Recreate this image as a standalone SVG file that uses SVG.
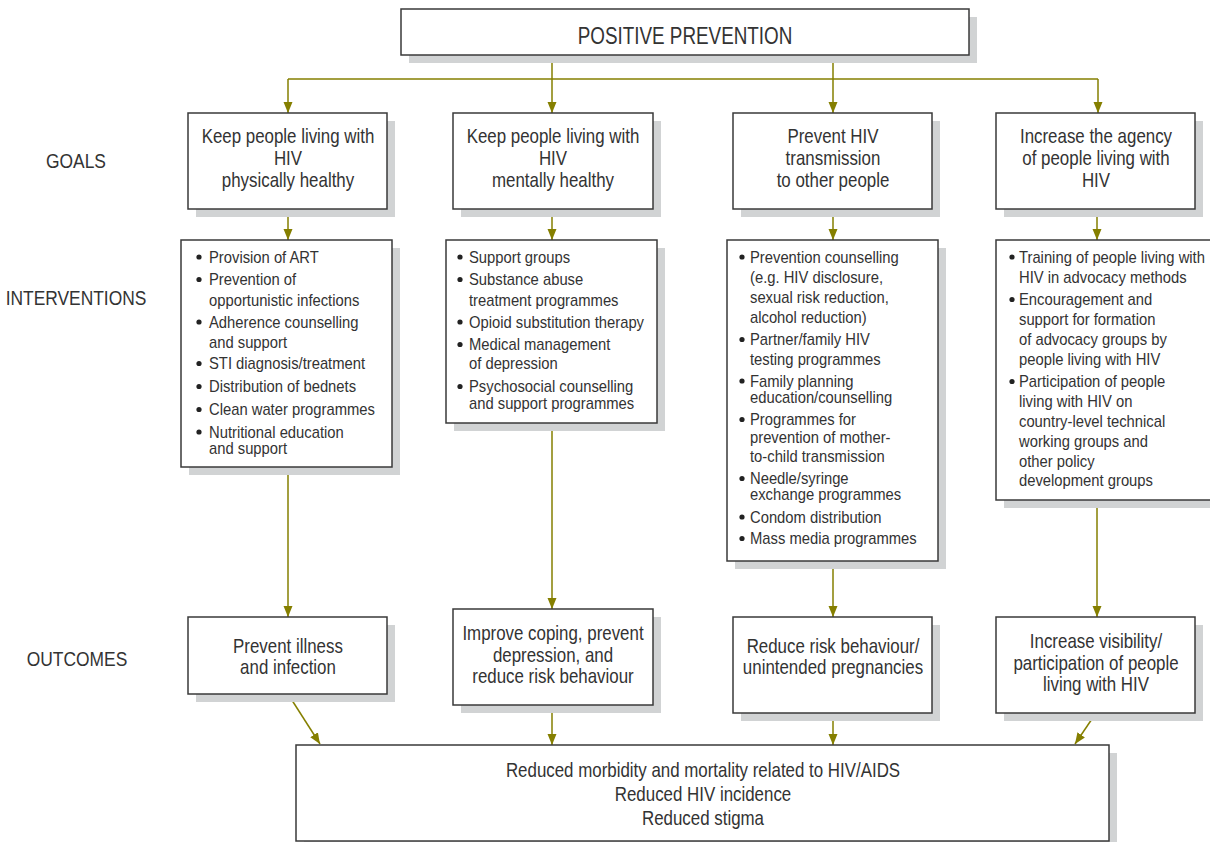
<svg xmlns="http://www.w3.org/2000/svg" width="1210" height="842" viewBox="0 0 1210 842">
<style>
.box{fill:#fff;stroke:#3a3a3a;stroke-width:1.5}
.sh{fill:#d1d3d4}
text{font-family:"Liberation Sans",Arial,sans-serif;fill:#333}
.tt{font-size:23px;text-anchor:middle}
.g{font-size:20px;text-anchor:middle}
.lab{font-size:20px;text-anchor:middle}
.i{font-size:17px}
.dot{fill:#222}
.c{stroke:#857f00;stroke-width:1.5;fill:none}
</style>
<defs>
<marker id="ah" markerUnits="userSpaceOnUse" markerWidth="12" markerHeight="10" refX="11" refY="4.5" orient="auto">
<path d="M0,0 L11,4.5 L0,9 z" fill="#857f00"/>
</marker>
</defs>
<rect width="1210" height="842" fill="#fff"/>

<g id="labels">
<text class="lab" transform="translate(76 168) scale(.87 1)">GOALS</text>
<text class="lab" transform="translate(76 305) scale(.87 1)">INTERVENTIONS</text>
<text class="lab" transform="translate(77 666) scale(.87 1)">OUTCOMES</text>
</g>

<g id="connectors">
<path class="c" d="M288,79 H1098"/>
<path class="c" d="M552,55 V113" marker-end="url(#ah)"/>
<path class="c" d="M833,55 V113" marker-end="url(#ah)"/>
<path class="c" d="M288,79 V113" marker-end="url(#ah)"/>
<path class="c" d="M1098,79 V113" marker-end="url(#ah)"/>
<path class="c" d="M288,209 V240" marker-end="url(#ah)"/>
<path class="c" d="M552,209 V240" marker-end="url(#ah)"/>
<path class="c" d="M833,209 V240" marker-end="url(#ah)"/>
<path class="c" d="M1097,209 V240" marker-end="url(#ah)"/>
<path class="c" d="M288,467 V617" marker-end="url(#ah)"/>
<path class="c" d="M552,423 V609" marker-end="url(#ah)"/>
<path class="c" d="M833,561 V617" marker-end="url(#ah)"/>
<path class="c" d="M1097,500 V617" marker-end="url(#ah)"/>
<path class="c" d="M288,694 L320,744" marker-end="url(#ah)"/>
<path class="c" d="M552,705 V745" marker-end="url(#ah)"/>
<path class="c" d="M833,713 V745" marker-end="url(#ah)"/>
<path class="c" d="M1096,713 L1075,744" marker-end="url(#ah)"/>
</g>

<g id="title">
<rect class="sh" x="409" y="17" width="568" height="46"/>
<rect class="box" x="401" y="9" width="568" height="46"/>
<text class="tt" transform="translate(685 44) scale(.82 1)">POSITIVE PREVENTION</text>
</g>

<g id="goal1">
<rect class="sh" x="196" y="121" width="199" height="96"/>
<rect class="box" x="188" y="113" width="199" height="96"/>
<text class="g" transform="translate(288 143) scale(.845 1)">Keep people living with</text>
<text class="g" transform="translate(288 165) scale(.845 1)">HIV</text>
<text class="g" transform="translate(288 186.5) scale(.845 1)">physically healthy</text>
</g>
<g id="goal2">
<rect class="sh" x="461" y="121" width="200" height="96"/>
<rect class="box" x="453" y="113" width="200" height="96"/>
<text class="g" transform="translate(553 143) scale(.845 1)">Keep people living with</text>
<text class="g" transform="translate(553 165) scale(.845 1)">HIV</text>
<text class="g" transform="translate(553 186.5) scale(.845 1)">mentally healthy</text>
</g>
<g id="goal3">
<rect class="sh" x="741" y="121" width="199" height="96"/>
<rect class="box" x="733" y="113" width="199" height="96"/>
<text class="g" transform="translate(833 143) scale(.845 1)">Prevent HIV</text>
<text class="g" transform="translate(833 165) scale(.845 1)">transmission</text>
<text class="g" transform="translate(833 186.5) scale(.845 1)">to other people</text>
</g>
<g id="goal4">
<rect class="sh" x="1004" y="121" width="199" height="96"/>
<rect class="box" x="996" y="113" width="199" height="96"/>
<text class="g" transform="translate(1096 143) scale(.845 1)">Increase the agency</text>
<text class="g" transform="translate(1096 165) scale(.845 1)">of people living with</text>
<text class="g" transform="translate(1096 186.5) scale(.845 1)">HIV</text>
</g>

<g id="int1">
<rect class="sh" x="189" y="248" width="211" height="227"/>
<rect class="box" x="181" y="240" width="211" height="227"/>
<circle class="dot" cx="199" cy="257" r="2.6"/><text class="i" transform="translate(209 262.5) scale(.87 1)">Provision of ART</text>
<circle class="dot" cx="199" cy="279.5" r="2.6"/><text class="i" transform="translate(209 285) scale(.87 1)">Prevention of</text>
<text class="i" transform="translate(209 306) scale(.87 1)">opportunistic infections</text>
<circle class="dot" cx="199" cy="322" r="2.6"/><text class="i" transform="translate(209 327.5) scale(.87 1)">Adherence counselling</text>
<text class="i" transform="translate(209 347.5) scale(.87 1)">and support</text>
<circle class="dot" cx="199" cy="363.5" r="2.6"/><text class="i" transform="translate(209 369) scale(.87 1)">STI diagnosis/treatment</text>
<circle class="dot" cx="199" cy="386.5" r="2.6"/><text class="i" transform="translate(209 392) scale(.87 1)">Distribution of bednets</text>
<circle class="dot" cx="199" cy="409.5" r="2.6"/><text class="i" transform="translate(209 415) scale(.87 1)">Clean water programmes</text>
<circle class="dot" cx="199" cy="432" r="2.6"/><text class="i" transform="translate(209 437.5) scale(.87 1)">Nutritional education</text>
<text class="i" transform="translate(209 454) scale(.87 1)">and support</text>
</g>
<g id="int2">
<rect class="sh" x="454" y="248" width="211" height="183"/>
<rect class="box" x="446" y="240" width="211" height="183"/>
<circle class="dot" cx="460" cy="257" r="2.6"/><text class="i" transform="translate(469 262.5) scale(.87 1)">Support groups</text>
<circle class="dot" cx="460" cy="279.5" r="2.6"/><text class="i" transform="translate(469 285) scale(.87 1)">Substance abuse</text>
<text class="i" transform="translate(469 306) scale(.87 1)">treatment programmes</text>
<circle class="dot" cx="460" cy="322" r="2.6"/><text class="i" transform="translate(469 327.5) scale(.87 1)">Opioid substitution therapy</text>
<circle class="dot" cx="460" cy="344.5" r="2.6"/><text class="i" transform="translate(469 350) scale(.87 1)">Medical management</text>
<text class="i" transform="translate(469 369) scale(.87 1)">of depression</text>
<circle class="dot" cx="460" cy="386.5" r="2.6"/><text class="i" transform="translate(469 392) scale(.87 1)">Psychosocial counselling</text>
<text class="i" transform="translate(469 408.5) scale(.87 1)">and support programmes</text>
</g>
<g id="int3">
<rect class="sh" x="735" y="248" width="211" height="321"/>
<rect class="box" x="727" y="240" width="211" height="321"/>
<circle class="dot" cx="742" cy="257" r="2.6"/><text class="i" transform="translate(750 262.5) scale(.87 1)">Prevention counselling</text>
<text class="i" transform="translate(750 282.5) scale(.87 1)">(e.g. HIV disclosure,</text>
<text class="i" transform="translate(750 302.5) scale(.87 1)">sexual risk reduction,</text>
<text class="i" transform="translate(750 322.5) scale(.87 1)">alcohol reduction)</text>
<circle class="dot" cx="742" cy="339.5" r="2.6"/><text class="i" transform="translate(750 345) scale(.87 1)">Partner/family HIV</text>
<text class="i" transform="translate(750 365) scale(.87 1)">testing programmes</text>
<circle class="dot" cx="742" cy="381" r="2.6"/><text class="i" transform="translate(750 386.5) scale(.87 1)">Family planning</text>
<text class="i" transform="translate(750 402.5) scale(.87 1)">education/counselling</text>
<circle class="dot" cx="742" cy="419.5" r="2.6"/><text class="i" transform="translate(750 425) scale(.87 1)">Programmes for</text>
<text class="i" transform="translate(750 442.5) scale(.87 1)">prevention of mother-</text>
<text class="i" transform="translate(750 462) scale(.87 1)">to-child transmission</text>
<circle class="dot" cx="742" cy="478.5" r="2.6"/><text class="i" transform="translate(750 484) scale(.87 1)">Needle/syringe</text>
<text class="i" transform="translate(750 500) scale(.87 1)">exchange programmes</text>
<circle class="dot" cx="742" cy="517" r="2.6"/><text class="i" transform="translate(750 522.5) scale(.87 1)">Condom distribution</text>
<circle class="dot" cx="742" cy="538.5" r="2.6"/><text class="i" transform="translate(750 544) scale(.87 1)">Mass media programmes</text>
</g>
<g id="int4">
<rect class="sh" x="1004" y="248" width="230" height="260"/>
<rect class="box" x="996" y="240" width="230" height="260"/>
<circle class="dot" cx="1012" cy="257" r="2.6"/><text class="i" transform="translate(1019 262.5) scale(.87 1)">Training of people living with</text>
<text class="i" transform="translate(1019 282.5) scale(.87 1)">HIV in advocacy methods</text>
<circle class="dot" cx="1012" cy="299.5" r="2.6"/><text class="i" transform="translate(1019 305) scale(.87 1)">Encouragement and</text>
<text class="i" transform="translate(1019 325) scale(.87 1)">support for formation</text>
<text class="i" transform="translate(1019 345) scale(.87 1)">of advocacy groups by</text>
<text class="i" transform="translate(1019 365) scale(.87 1)">people living with HIV</text>
<circle class="dot" cx="1012" cy="381.5" r="2.6"/><text class="i" transform="translate(1019 387) scale(.87 1)">Participation of people</text>
<text class="i" transform="translate(1019 407) scale(.87 1)">living with HIV on</text>
<text class="i" transform="translate(1019 427) scale(.87 1)">country-level technical</text>
<text class="i" transform="translate(1019 447) scale(.87 1)">working groups and</text>
<text class="i" transform="translate(1019 466.5) scale(.87 1)">other policy</text>
<text class="i" transform="translate(1019 486) scale(.87 1)">development groups</text>
</g>

<g id="out1">
<rect class="sh" x="196" y="625" width="199" height="77"/>
<rect class="box" x="188" y="617" width="199" height="77"/>
<text class="g" transform="translate(288 652.5) scale(.845 1)">Prevent illness</text>
<text class="g" transform="translate(288 674) scale(.845 1)">and infection</text>
</g>
<g id="out2">
<rect class="sh" x="461" y="617" width="200" height="96"/>
<rect class="box" x="453" y="609" width="200" height="96"/>
<text class="g" transform="translate(553 639.5) scale(.845 1)">Improve coping, prevent</text>
<text class="g" transform="translate(553 661.5) scale(.845 1)">depression, and</text>
<text class="g" transform="translate(553 682.5) scale(.845 1)">reduce risk behaviour</text>
</g>
<g id="out3">
<rect class="sh" x="741" y="625" width="199" height="96"/>
<rect class="box" x="733" y="617" width="199" height="96"/>
<text class="g" transform="translate(833 652.5) scale(.845 1)">Reduce risk behaviour/</text>
<text class="g" transform="translate(833 674) scale(.845 1)">unintended pregnancies</text>
</g>
<g id="out4">
<rect class="sh" x="1004" y="625" width="199" height="96"/>
<rect class="box" x="996" y="617" width="199" height="96"/>
<text class="g" transform="translate(1096 647.5) scale(.845 1)">Increase visibility/</text>
<text class="g" transform="translate(1096 669.5) scale(.845 1)">participation of people</text>
<text class="g" transform="translate(1096 690.5) scale(.845 1)">living with HIV</text>
</g>

<g id="result">
<rect class="sh" x="304" y="753" width="813" height="96"/>
<rect class="box" x="296" y="745" width="813" height="96"/>
<text class="g" transform="translate(703 776.5) scale(.845 1)">Reduced morbidity and mortality related to HIV/AIDS</text>
<text class="g" transform="translate(703 800.5) scale(.845 1)">Reduced HIV incidence</text>
<text class="g" transform="translate(703 824.5) scale(.845 1)">Reduced stigma</text>
</g>
</svg>
